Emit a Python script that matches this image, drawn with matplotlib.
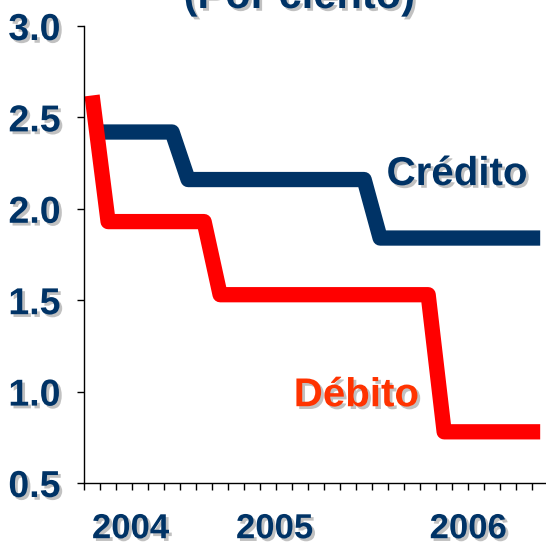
import matplotlib
matplotlib.use('Agg')
import matplotlib.pyplot as plt
import matplotlib.patheffects as pe
import numpy as np

# === DATA (monthly, 29 months) ===
credito = [2.42, 2.42, 2.42, 2.42, 2.42, 2.42,
           2.16, 2.16, 2.16, 2.16, 2.16, 2.16, 2.16, 2.16, 2.16, 2.16, 2.16, 2.16,
           1.84, 1.84, 1.84, 1.84, 1.84, 1.84, 1.84, 1.84, 1.84, 1.84, 1.84]
debito = [2.62,
          1.93, 1.93, 1.93, 1.93, 1.93, 1.93, 1.93,
          1.53, 1.53, 1.53, 1.53, 1.53, 1.53, 1.53, 1.53, 1.53, 1.53, 1.53, 1.53, 1.53, 1.53,
          0.78, 0.78, 0.78, 0.78, 0.78, 0.78, 0.78]
year_labels = ['2004', '2005', '2006']
year_pos = [2.9, 11.9, 24.0]
y_ticks = [0.5, 1.0, 1.5, 2.0, 2.5, 3.0]

NAVY = '#003366'
RED = '#FF0000'
ORANGE = '#FF3300'
FONT = 'Liberation Sans'

shadow = [pe.withSimplePatchShadow(offset=(2, -2), shadow_rgbFace='#999999', alpha=0.6)]

x = np.arange(len(credito)) + 0.5

fig = plt.figure(figsize=(5.46, 5.46), dpi=100)
ax = fig.add_axes([0.154, 0.1154, 0.85, 0.837])

ax.plot(x, credito, color=NAVY, lw=11, solid_joinstyle='round', solid_capstyle='butt')
ax.plot(x, debito, color=RED, lw=11, solid_joinstyle='round', solid_capstyle='butt')

ax.set_xlim(0, 29)
ax.set_ylim(0.5, 3.0)
for s in ['top', 'right']:
    ax.spines[s].set_visible(False)
for s in ['left', 'bottom']:
    ax.spines[s].set_linewidth(1.0)
    ax.spines[s].set_color('black')

ax.set_yticks(y_ticks)
ax.set_yticklabels([f'{v:.1f}' for v in y_ticks])
ax.tick_params(axis='y', direction='out', length=5, width=1, pad=12,
               labelsize=27, labelcolor=NAVY)
for lbl in ax.get_yticklabels():
    lbl.set_fontfamily(FONT)
    lbl.set_fontweight('bold')
    lbl.set_path_effects(shadow)

ax.set_xticks(np.arange(0, 30))
ax.set_xticklabels([])
ax.tick_params(axis='x', direction='out', length=5, width=1)

for lab, p in zip(year_labels, year_pos):
    ax.text(p, -0.1, lab, transform=ax.get_xaxis_transform(), ha='center', va='center',
            fontsize=25, fontweight='bold', color=NAVY, family=FONT, path_effects=shadow)

ax.text(18.9, 2.13, 'Crédito', ha='left', va='baseline', fontsize=29, fontweight='bold',
        color=NAVY, family=FONT, path_effects=shadow)
ax.text(13.1, 0.92, 'Débito', ha='left', va='baseline', fontsize=29, fontweight='bold',
        color=ORANGE, family=FONT, path_effects=shadow)

fig.text(0.548, 1 - 8 / 546, '(Por ciento)', ha='center', va='baseline', fontsize=30,
         fontweight='bold', color=NAVY, family=FONT, path_effects=shadow)

fig.savefig('out.png', dpi=100)
